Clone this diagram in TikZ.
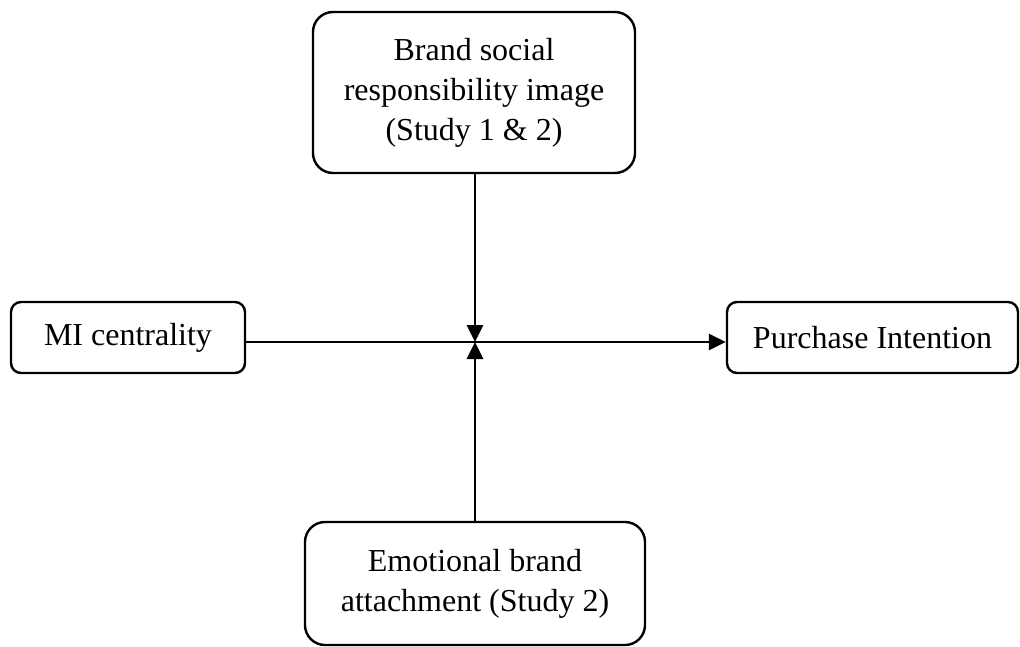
\documentclass[tikz,border=0pt]{standalone}
\usepackage{fontspec}
\setmainfont{Liberation Serif}
\usetikzlibrary{arrows.meta}
\begin{document}
\begin{tikzpicture}[x=1pt,y=-1pt,
  box/.style={draw,line width=2.4pt,align=center,inner sep=0pt,
    font=\fontsize{32}{40}\selectfont},
  conn/.style={line width=2.8pt,-{Triangle[length=17pt,width=16pt]}}]
\useasboundingbox (0,0) rectangle (1020,646);
\node[box,rounded corners=20pt,minimum width=322pt,minimum height=161pt] (bsr) at (474,92.5)
  {Brand social\\responsibility image\\(Study 1 \& 2)};
\node[box,rounded corners=10pt,minimum width=234pt,minimum height=71pt] (mi) at (128,337.5)
  {MI centrality};
\node[box,rounded corners=10pt,minimum width=291pt,minimum height=71pt] (pi) at (872.5,337.5)
  {Purchase Intention};
\node[box,rounded corners=20pt,minimum width=340pt,minimum height=123pt] (eba) at (475,583.5)
  {Emotional brand\\attachment (Study 2)};
\coordinate (j) at (475,342);
\draw[conn] (mi.east |- j) -- (pi.west |- j);
\draw[conn] (bsr.south -| j) -- (j);
\draw[conn] (eba.north -| j) -- (j);
\end{tikzpicture}
\end{document}
